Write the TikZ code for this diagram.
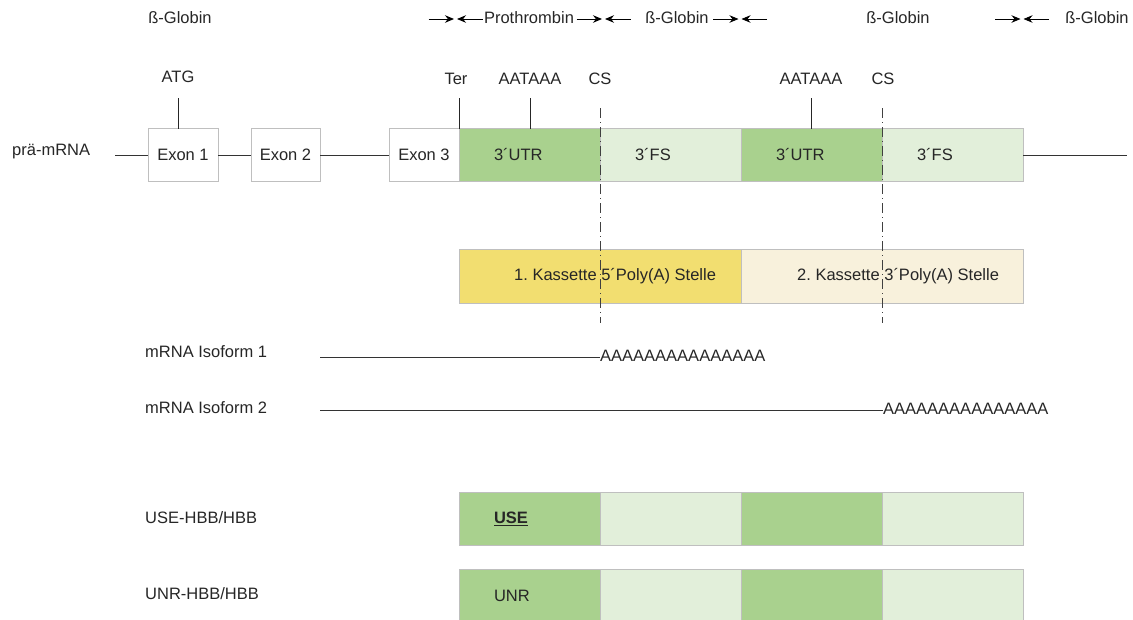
\documentclass[tikz,border=0pt]{standalone}
\usepackage{fontspec}
\setmainfont{Liberation Sans}
\usepackage{xcolor}
\usepackage{tikz}
\usetikzlibrary{arrows.meta,positioning,calc}
\definecolor{utrgreen}{RGB}{169,209,142}
\definecolor{fsgreen}{RGB}{226,239,218}
\definecolor{kasyellow}{RGB}{242,222,112}
\definecolor{kascream}{RGB}{248,241,220}
\definecolor{boxgray}{RGB}{191,191,191}

\begin{document}
\begin{tikzpicture}[x=1pt, y=-1pt,
  font=\fontsize{16.5}{19}\selectfont\frenchspacing,
  lbl/.style={text=black!85, text height=12pt, text depth=3.5pt, inner sep=0pt},
  exon/.style={draw=boxgray, fill=white, text=black!85, minimum width=70pt, minimum height=53pt, outer sep=0pt},
  seg/.style={draw=boxgray, text=black!85, minimum width=141pt, minimum height=53pt, text width=71pt, inner xsep=35pt, align=left, outer sep=0pt},
  utr/.style={seg, fill=utrgreen},
  fs/.style={seg, fill=fsgreen},
  kas/.style={draw=boxgray, minimum width=282pt, minimum height=54pt, outer sep=0pt},
  arr/.style={-{Stealth[length=9pt,width=7.5pt]}, line width=0.9pt, black},
  csline/.style={black!75, thick, dash pattern=on 10pt off 4pt on 1pt off 4pt},
  tick/.style={black!85, thin},
  dna/.style={black!80, thin}
]
\useasboundingbox (0,0) rectangle (1133,619);

% top row: gene regions
\node[lbl] (glob0) at (180,19) {ß-Globin};
\node[lbl] (prot) at (529,19) {Prothrombin};
\node[lbl] (glob1) at (677,19) {ß-Globin};
\node[lbl] (glob2) at (898,19) {ß-Globin};
\node[lbl] (glob3) at (1097,19) {ß-Globin};
\coordinate (b1) at (455.5,19);
\coordinate (b2) at (603.5,19);
\coordinate (b3) at (740,19);
\coordinate (b4) at (1022,19);
\foreach \b in {b1,b2,b3,b4}{
  \draw[arr] ([xshift=-27pt]\b) -- ([xshift=-1.5pt]\b);
  \draw[arr] ([xshift=27pt]\b) -- ([xshift=1.5pt]\b);
}

% pre-mRNA
\node[lbl, anchor=west] (pre) at (12,151) {prä-mRNA};
\node[utr] (utr1) at (529.5,155) {3´UTR};
\node[fs, right=0pt of utr1] (fs1) {3´FS};
\node[utr, right=0pt of fs1] (utr2) {3´UTR};
\node[fs, right=0pt of utr2] (fs2) {3´FS};
\node[exon, left=0pt of utr1] (exon3) {Exon 3};
\node[exon] (exon1) at (183,155) {Exon 1};
\node[exon, minimum width=69pt] (exon2) at (285.5,155) {Exon 2};
\coordinate (mstart) at (115,155);
\coordinate (mend) at (1127,155);
\draw[dna] (mstart) -- (exon1.west);
\draw[dna] (exon1.east) -- (exon2.west);
\draw[dna] (exon2.east) -- (exon3.west);
\draw[dna] (fs2.east) -- (mend);

% sites
\coordinate (tktop) at (0,98);
\node[lbl] (atg) at (178,78) {ATG};
\node[lbl] (ter) at (456,80) {Ter};
\node[lbl] (aat1) at (530,80) {AATAAA};
\node[lbl] (cs1) at (600,80) {CS};
\node[lbl] (aat2) at (811,80) {AATAAA};
\node[lbl] (cs2) at (883,80) {CS};
\draw[tick] (atg |- tktop) -- (atg |- exon1.north);
\draw[tick] (utr1.north west |- tktop) -- (utr1.north west);
\draw[tick] (aat1 |- tktop) -- (aat1 |- utr1.north);
\draw[tick] (aat2 |- tktop) -- (aat2 |- utr2.north);

% cassettes
\node[kas, fill=kasyellow, label={[lbl, anchor=west, xshift=55pt]west:1. Kassette 5´Poly(A) Stelle}] (kas1) at (600,276) {};
\node[kas, fill=kascream, right=0pt of kas1, label={[lbl, anchor=west, xshift=56pt]west:2. Kassette 3´Poly(A) Stelle}] (kas2) {};

% cleavage sites
\coordinate (cstop) at (0,108);
\coordinate (cslow) at (0,323);
\draw[csline] (utr1.east |- cstop) -- (utr1.east |- cslow);
\draw[csline] (utr2.east |- cstop) -- (utr2.east |- cslow);

% isoforms
\node[lbl, anchor=west] (iso1) at (145,353) {mRNA Isoform 1};
\node[lbl, anchor=west] (iso2) at (145,409) {mRNA Isoform 2};
\coordinate (s1) at (320,357);
\coordinate (s2) at (320,410);
\node[lbl, anchor=west] (poly1) at (600,357) {AAAAAAAAAAAAAAA};
\node[lbl, anchor=west] (poly2) at (883,410) {AAAAAAAAAAAAAAA};
\draw[dna] (s1) -- (poly1.west);
\draw[dna] (s2) -- (poly2.west);

% constructs
\node[lbl, anchor=west] (usel) at (145,519) {USE-HBB/HBB};
\node[utr] (use1) at (529.5,518.5) {\underline{\textbf{USE}}};
\node[fs, right=0pt of use1] (use2) {};
\node[utr, right=0pt of use2] (use3) {};
\node[fs, right=0pt of use3] (use4) {};

\node[lbl, anchor=west] (unrl) at (145,595) {UNR-HBB/HBB};
\node[utr] (unr1) at (529.5,596) {UNR};
\node[fs, right=0pt of unr1] (unr2) {};
\node[utr, right=0pt of unr2] (unr3) {};
\node[fs, right=0pt of unr3] (unr4) {};
\end{tikzpicture}
\end{document}
